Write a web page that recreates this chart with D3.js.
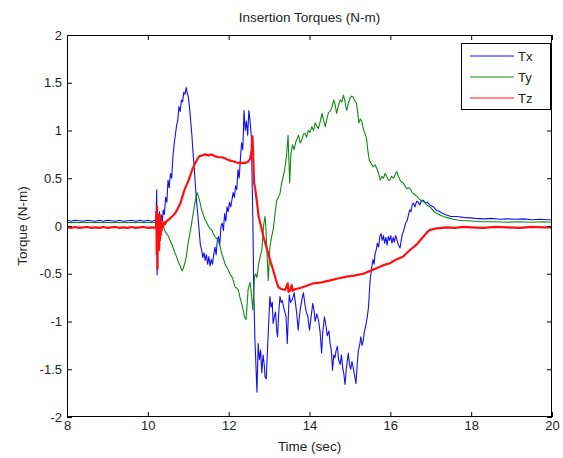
<!DOCTYPE html>
<html>
<head>
<meta charset="utf-8">
<script src="https://cdn.jsdelivr.net/npm/d3@7"></script>
<style>
  html, body { margin: 0; padding: 0; background: #ffffff; }
  svg { display: block; }
  text { font-family: "Liberation Sans", Arial, sans-serif; fill: #222; }
</style>
</head>
<body>
<svg id="chart" width="563" height="458"></svg>
<script>
// ---------- data ----------
const chartTitle = "Insertion Torques (N-m)";
const xLabel = "Time (sec)";
const yLabel = "Torque (N-m)";
const seriesNames = ["Tx", "Ty", "Tz"];
const xTicks = [8, 10, 12, 14, 16, 18, 20];
const yTicks = [2, 1.5, 1, 0.5, 0, -0.5, -1, -1.5, -2];

const tx = [
[8.0,.06],[8.1,.05],[8.2,.06],[8.3,.055],[8.4,.05],[8.5,.06],[8.6,.055],[8.7,.05],[8.8,.06],[8.9,.05],
[9.0,.06],[9.1,.055],[9.2,.05],[9.3,.06],[9.4,.05],[9.5,.055],[9.6,.06],[9.7,.05],[9.8,.06],[9.9,.05],
[10.0,.06],[10.1,.05],[10.18,.06],[10.2,.05],[10.22,.38],[10.23,-.51],[10.25,.1],[10.27,-.05],[10.29,.15],
[10.31,-.1],[10.33,.12],[10.36,.05],[10.38,.17],[10.41,.12],[10.44,.3],[10.47,.25],[10.5,.48],[10.53,.4],
[10.56,.55],[10.59,.5],[10.62,.72],[10.65,.85],[10.68,.95],[10.71,1.05],[10.74,1.1],[10.77,1.25],[10.8,1.2],
[10.83,1.32],[10.86,1.3],[10.89,1.4],[10.92,1.38],[10.95,1.45],[10.97,1.4],[11.0,1.36],[11.03,1.25],
[11.06,1.1],[11.09,.95],[11.12,.76],[11.15,.6],[11.18,.4],[11.21,.24],[11.24,.1],[11.27,-.05],[11.3,-.2],
[11.33,-.25],[11.36,-.33],[11.39,-.28],[11.42,-.36],[11.45,-.3],[11.48,-.4],[11.51,-.32],[11.54,-.42],
[11.57,-.35],[11.6,-.4],[11.63,-.3],[11.66,-.22],[11.69,-.3],[11.72,-.15],[11.75,-.11],[11.78,-.2],
[11.81,0],[11.84,.03],[11.87,-.05],[11.9,.13],[11.93,.05],[11.96,.2],[11.99,.15],[12.02,.25],[12.05,.2],
[12.08,.27],[12.11,.35],[12.14,.3],[12.17,.42],[12.2,.38],[12.23,.59],[12.26,.5],[12.29,.7],[12.32,.87],
[12.35,.8],[12.38,1.21],[12.41,1.0],[12.44,1.1],[12.47,.95],[12.5,1.21],[12.53,1.1],[12.56,.94],[12.58,.5],
[12.6,.03],[12.62,-.67],[12.65,-1.19],[12.7,-1.74],[12.73,-1.23],[12.76,-1.4],[12.79,-1.3],[12.82,-1.54],
[12.85,-1.35],[12.88,-1.45],[12.9,-1.58],[12.93,-1.6],[12.96,-1.3],[12.99,-1.02],[13.02,-.74],[13.05,-.85],
[13.08,-.8],[13.1,-1.02],[13.13,-.95],[13.16,-.9],[13.19,-1.1],[13.21,-1.16],[13.24,-.9],[13.27,-.74],
[13.3,-.8],[13.33,-.78],[13.36,-.85],[13.39,-.9],[13.42,-.95],[13.45,-1.23],[13.48,-.9],[13.5,-.72],
[13.53,-.8],[13.56,-.78],[13.59,-.75],[13.62,-.7],[13.65,-.8],[13.68,-.9],[13.72,-1.09],[13.75,-.95],
[13.78,-.85],[13.82,-.75],[13.85,-.7],[13.88,-.8],[13.92,-.9],[13.96,-.95],[14.0,-1.09],[14.04,-.95],
[14.08,-.81],[14.11,-.88],[14.14,-1.0],[14.18,-.92],[14.22,-.98],[14.26,-1.1],[14.3,-1.33],[14.33,-1.1],
[14.37,-.95],[14.41,-1.05],[14.44,-1.15],[14.48,-1.1],[14.51,-1.23],[14.54,-1.3],[14.57,-1.51],[14.6,-1.35],
[14.63,-1.38],[14.66,-1.3],[14.69,-1.26],[14.72,-1.4],[14.76,-1.45],[14.79,-1.35],[14.82,-1.48],
[14.85,-1.55],[14.88,-1.66],[14.91,-1.5],[14.94,-1.4],[14.96,-1.33],[14.99,-1.45],[15.02,-1.5],
[15.05,-1.42],[15.08,-1.48],[15.11,-1.55],[15.15,-1.65],[15.18,-1.45],[15.21,-1.3],[15.24,-1.25],
[15.27,-1.16],[15.3,-1.25],[15.33,-1.2],[15.36,-1.1],[15.39,-1.05],[15.43,-.95],[15.46,-.85],[15.48,-.7],
[15.5,-.57],[15.52,-.5],[15.54,-.43],[15.57,-.35],[15.6,-.4],[15.62,-.3],[15.65,-.25],[15.68,-.18],
[15.71,-.22],[15.74,-.11],[15.77,-.08],[15.8,-.15],[15.83,-.1],[15.86,-.18],[15.89,-.12],[15.92,-.2],
[15.95,-.11],[15.98,-.15],[16.01,-.1],[16.04,-.18],[16.07,-.12],[16.1,-.17],[16.13,-.1],[16.16,-.14],
[16.2,-.2],[16.24,-.23],[16.27,-.15],[16.3,-.08],[16.33,-.05],[16.36,0],[16.39,.04],[16.42,.06],
[16.45,.12],[16.48,.17],[16.51,.15],[16.54,.22],[16.57,.24],[16.61,.2],[16.65,.26],[16.69,.25],
[16.73,.22],[16.77,.27],[16.82,.27],[16.87,.24],[16.92,.25],[16.97,.22],[17.02,.21],[17.07,.2],
[17.12,.17],[17.17,.16],[17.23,.15],[17.3,.13],[17.39,.115],[17.5,.1],[17.64,.1],[17.8,.09],[17.97,.085],
[18.1,.08],[18.3,.075],[18.5,.08],[18.7,.07],[18.9,.075],[19.1,.07],[19.3,.075],[19.5,.065],[19.7,.07],
[19.9,.065],[20.0,.065]
];

const ty = [
[8.0,.04],[8.1,.035],[8.2,.04],[8.3,.035],[8.4,.04],[8.5,.035],[8.6,.04],[8.7,.035],[8.8,.04],[8.9,.035],
[9.0,.04],[9.1,.035],[9.2,.04],[9.3,.035],[9.4,.04],[9.5,.035],[9.6,.04],[9.7,.035],[9.8,.04],[9.9,.035],
[10.0,.04],[10.1,.035],[10.2,.04],[10.22,.05],[10.25,0],[10.28,.04],[10.31,-.02],[10.35,.02],[10.38,0],
[10.42,-.05],[10.46,-.08],[10.5,-.1],[10.54,-.14],[10.58,-.18],[10.62,-.22],[10.66,-.27],[10.7,-.31],
[10.74,-.36],[10.78,-.4],[10.82,-.44],[10.85,-.47],[10.88,-.44],[10.92,-.38],[10.95,-.32],[10.99,-.2],
[11.03,-.1],[11.07,-.01],[11.11,.1],[11.15,.2],[11.19,.3],[11.22,.35],[11.25,.31],[11.29,.25],[11.33,.17],
[11.37,.12],[11.42,.06],[11.46,.03],[11.5,0],[11.54,-.03],[11.58,-.04],[11.62,-.08],[11.66,-.11],
[11.7,-.13],[11.75,-.16],[11.79,-.22],[11.83,-.29],[11.87,-.34],[11.91,-.4],[11.95,-.43],[11.99,-.46],
[12.03,-.5],[12.08,-.53],[12.12,-.58],[12.16,-.64],[12.2,-.65],[12.24,-.67],[12.28,-.75],[12.32,-.81],
[12.36,-.88],[12.39,-.95],[12.43,-.98],[12.46,-.8],[12.48,-.67],[12.51,-.62],[12.53,-.59],[12.56,-.7],
[12.6,-.88],[12.62,-.7],[12.64,-.53],[12.67,-.5],[12.7,-.54],[12.74,-.4],[12.78,-.32],[12.82,-.25],
[12.84,-.15],[12.86,-.01],[12.88,.05],[12.9,.1],[12.92,0],[12.95,-.3],[12.98,-.57],[13.0,-.4],
[13.02,-.22],[13.06,-.12],[13.1,-.04],[13.14,.1],[13.19,.27],[13.23,.3],[13.27,.34],[13.31,.45],
[13.35,.52],[13.39,.6],[13.43,.73],[13.47,.95],[13.49,.7],[13.51,.45],[13.54,.75],[13.58,.85],[13.62,.8],
[13.66,.88],[13.7,.92],[13.73,.95],[13.77,.87],[13.81,.9],[13.85,.96],[13.89,.97],[13.93,.93],[13.97,1.0],
[14.01,.98],[14.06,1.04],[14.1,1.0],[14.14,1.08],[14.18,1.05],[14.22,1.02],[14.27,1.1],[14.31,1.18],
[14.35,1.1],[14.39,1.04],[14.43,1.12],[14.47,1.19],[14.51,1.2],[14.56,1.25],[14.6,1.32],[14.64,1.26],
[14.67,1.18],[14.71,1.25],[14.76,1.32],[14.8,1.3],[14.84,1.37],[14.88,1.3],[14.92,1.21],[14.96,1.28],
[15.0,1.34],[15.04,1.36],[15.08,1.35],[15.12,1.31],[15.16,1.29],[15.19,1.2],[15.22,1.08],[15.26,1.12],
[15.29,1.1],[15.33,1.02],[15.37,.97],[15.41,.92],[15.44,.8],[15.48,.69],[15.52,.66],[15.57,.62],
[15.62,.64],[15.67,.6],[15.71,.55],[15.75,.48],[15.79,.52],[15.83,.5],[15.87,.55],[15.91,.52],[15.95,.48],
[15.99,.48],[16.03,.52],[16.08,.5],[16.12,.54],[16.16,.57],[16.2,.52],[16.24,.48],[16.28,.46],[16.32,.45],
[16.36,.42],[16.41,.39],[16.45,.4],[16.49,.39],[16.54,.35],[16.6,.33],[16.66,.31],[16.72,.28],[16.78,.26],
[16.84,.25],[16.9,.22],[16.98,.2],[17.06,.16],[17.15,.13],[17.23,.115],[17.31,.1],[17.43,.085],[17.56,.07],
[17.7,.06],[17.89,.055],[18.1,.05],[18.3,.045],[18.6,.045],[18.9,.04],[19.2,.045],[19.5,.04],[19.8,.045],
[20.0,.04]
];

const tz = [
[8.0,-.015],[8.1,-.02],[8.2,-.01],[8.3,-.02],[8.4,-.015],[8.5,-.01],[8.6,-.02],[8.7,-.015],[8.8,-.02],
[8.9,-.01],[9.0,-.02],[9.1,-.015],[9.2,-.01],[9.3,-.02],[9.4,-.015],[9.5,-.02],[9.6,-.01],[9.7,-.02],
[9.8,-.015],[9.9,-.01],[10.0,-.02],[10.1,-.015],[10.2,-.02],[10.21,.15],[10.22,-.3],[10.23,.2],[10.24,-.45],
[10.25,.1],[10.26,-.2],[10.27,.12],[10.28,-.25],[10.29,.05],[10.3,-.15],[10.31,.1],[10.32,-.1],[10.33,.05],
[10.34,-.05],[10.36,.02],[10.38,0],[10.4,.04],[10.43,.02],[10.46,.05],[10.5,.06],[10.55,.08],[10.6,.1],
[10.65,.12],[10.7,.15],[10.75,.19],[10.8,.23],[10.85,.3],[10.9,.37],[10.95,.42],[11.0,.47],[11.05,.53],
[11.1,.59],[11.15,.64],[11.2,.68],[11.27,.73],[11.35,.74],[11.42,.75],[11.5,.74],[11.58,.75],[11.66,.73],
[11.75,.72],[11.83,.72],[11.91,.71],[12.0,.69],[12.08,.68],[12.16,.67],[12.25,.66],[12.33,.66],[12.41,.66],
[12.47,.67],[12.53,.7],[12.57,.8],[12.59,.94],[12.61,.7],[12.63,.45],[12.66,.38],[12.7,.25],[12.74,.1],
[12.8,0],[12.86,-.11],[12.92,-.2],[12.98,-.29],[13.04,-.38],[13.1,-.46],[13.16,-.55],[13.23,-.64],
[13.3,-.66],[13.4,-.67],[13.46,-.6],[13.48,-.69],[13.52,-.67],[13.56,-.62],[13.58,-.68],[13.65,-.66],
[13.77,-.65],[13.9,-.63],[14.1,-.6],[14.3,-.59],[14.51,-.57],[14.7,-.55],[14.92,-.53],[15.1,-.52],
[15.33,-.5],[15.5,-.47],[15.67,-.44],[15.83,-.41],[15.99,-.39],[16.15,-.35],[16.32,-.32],[16.41,-.28],
[16.49,-.25],[16.58,-.22],[16.66,-.19],[16.74,-.15],[16.82,-.11],[16.9,-.07],[16.98,-.04],[17.15,-.025],
[17.4,-.015],[17.6,-.02],[17.8,-.01],[18.0,-.015],[18.3,-.02],[18.6,-.01],[18.9,-.015],[19.2,-.02],
[19.5,-.01],[19.8,-.015],[20.0,-.015]
];

const seriesColors = ["#1010f0", "#108a10", "#ff1010"];

// ---------- layout ----------
const svg = d3.select("#chart");
const M = { left: 67, right: 552, top: 35, bottom: 417 };

const x = d3.scaleLinear().domain([8, 20]).range([M.left, M.right]);
const y = d3.scaleLinear().domain([-2, 2]).range([M.bottom, M.top]);

const fontTick = 13;

const line = d3.line().x(d => x(d[0])).y(d => y(d[1]));
svg.append("clipPath").attr("id", "clip")
  .append("rect").attr("x", M.left).attr("y", M.top)
  .attr("width", M.right - M.left).attr("height", M.bottom - M.top);
const g = svg.append("g").attr("clip-path", "url(#clip)");
const allSeries = [tx, ty, tz];
const widths = [1.1, 1.1, 2.2];
allSeries.forEach((s, i) => {
  g.append("path").datum(s).attr("d", line)
    .attr("fill", "none").attr("stroke", seriesColors[i])
    .attr("stroke-width", widths[i]).attr("stroke-linejoin", "round");
});

const tickLen = 5;
const axB = d3.axisBottom(x).tickValues(xTicks).tickSizeInner(-tickLen).tickSizeOuter(0).tickPadding(4).tickFormat(d3.format("d"));
const axT = d3.axisTop(x).tickValues(xTicks).tickSizeInner(-tickLen).tickSizeOuter(0).tickFormat("");
const axL = d3.axisLeft(y).tickValues(yTicks).tickSizeInner(-tickLen).tickSizeOuter(0).tickPadding(5).tickFormat(d => String(d));
const axR = d3.axisRight(y).tickValues(yTicks).tickSizeInner(-tickLen).tickSizeOuter(0).tickFormat("");

function styleAxis(sel) {
  sel.select(".domain").remove();
  sel.selectAll(".tick line").attr("stroke", "#000").attr("stroke-width", 1);
  sel.selectAll(".tick text").attr("font-size", fontTick)
    .attr("font-family", "'Liberation Sans', Arial, sans-serif").attr("fill", "#222");
}
svg.append("g").attr("transform", `translate(0,${M.bottom})`).call(axB).call(styleAxis);
svg.append("g").attr("transform", `translate(0,${M.top})`).call(axT).call(styleAxis);
svg.append("g").attr("transform", `translate(${M.left},0)`).call(axL).call(styleAxis);
svg.append("g").attr("transform", `translate(${M.right},0)`).call(axR).call(styleAxis);

svg.append("rect").attr("x", M.left + 0.5).attr("y", M.top + 0.5)
  .attr("width", M.right - M.left - 1).attr("height", M.bottom - M.top - 1)
  .attr("fill", "none").attr("stroke", "#000").attr("stroke-width", 1);

svg.append("text").attr("x", (M.left + M.right) / 2).attr("y", 22)
  .attr("text-anchor", "middle").attr("font-size", 13.5).text(chartTitle);
svg.append("text").attr("x", (M.left + M.right) / 2).attr("y", 451)
  .attr("text-anchor", "middle").attr("font-size", 13.5).text(xLabel);
svg.append("text").attr("transform", `translate(27,${(M.top + M.bottom) / 2}) rotate(-90)`)
  .attr("text-anchor", "middle").attr("font-size", 13.5).text(yLabel);

const lg = svg.append("g");
const LB = { x: 461, y: 43, w: 89, h: 66 };
lg.append("rect").attr("x", LB.x + 0.5).attr("y", LB.y + 0.5).attr("width", LB.w).attr("height", LB.h)
  .attr("fill", "#fff").attr("stroke", "#000").attr("stroke-width", 1);
seriesNames.forEach((name, i) => {
  const yy = LB.y + 13 + i * 21;
  lg.append("line").attr("x1", LB.x + 9).attr("x2", LB.x + 53).attr("y1", yy).attr("y2", yy)
    .attr("stroke", seriesColors[i]).attr("stroke-width", 1);
  lg.append("text").attr("x", LB.x + 57).attr("y", yy + 4.5).attr("font-size", 13).text(name);
});
</script>
</body>
</html>
